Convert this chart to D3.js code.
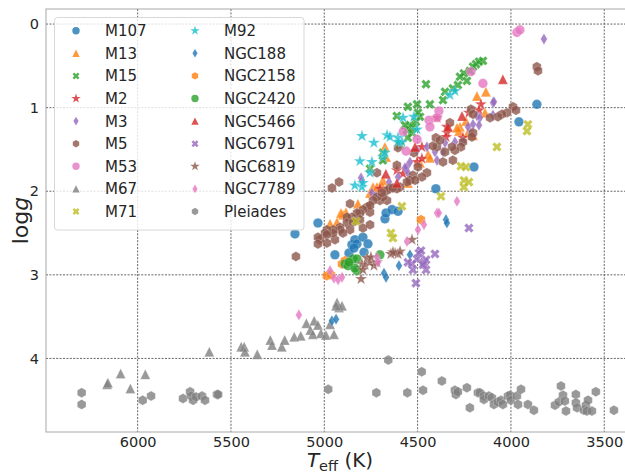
<!DOCTYPE html>
<html>
<head>
<meta charset="utf-8">
<script src="https://cdn.jsdelivr.net/npm/d3@7"></script>
<style>
  body { margin: 0; background: #fff; }
  text { font-family: "DejaVu Sans", sans-serif; fill: #262626; }
</style>
</head>
<body>
<div id="chart"></div>
<script>
// [Teff, logg], one array per cluster
const M107 = [[5157,2.51],[5034,2.38],[4943,2.76],[4868,2.74],[4852,2.64],[4836,2.58],[4825,2.63],[4841,2.68],[4793,2.55],[4787,2.73],[4766,2.63],[4675,2.33],[4669,2.26],[4637,2.22],[4605,2.24],[4402,1.97],[4198,1.71],[3957,1.17],[3861,0.96]];
const M13 = [[4134,0.81],[4182,0.86],[4139,1.06],[4241,1.16],[4273,1.23],[4278,1.28],[4230,1.30],[4203,1.33],[4444,1.56],[4487,1.66],[4434,1.60],[4675,1.47],[4669,1.59],[4686,1.87],[4691,1.93],[4739,1.95],[4755,2.02],[4820,2.15],[4884,2.25],[4900,2.28],[4969,2.39],[4932,2.37],[4552,1.90],[4289,1.24],[4911,2.26],[4718,1.95]];
const M15 = [[4150,0.44],[4171,0.45],[4187,0.48],[4203,0.51],[4220,0.56],[4252,0.59],[4273,0.63],[4236,0.68],[4284,0.73],[4311,0.77],[4353,0.81],[4364,0.91],[4455,0.72],[4503,0.96],[4434,0.96],[4552,0.99],[4611,1.10],[4541,1.21],[4509,1.17],[4525,1.24],[4557,1.27],[4487,1.11],[4530,1.30],[4552,1.36],[4594,1.45],[4686,1.54],[4686,1.63],[4755,1.73],[4568,1.21],[4498,1.06]];
const M2 = [[4161,0.96],[4171,1.03],[4257,1.36],[4343,1.30],[4348,1.35],[4396,1.12],[4477,1.47],[4503,1.65],[4477,1.61],[4611,1.75],[4702,1.97],[4578,1.79],[4225,1.06],[4343,1.23]];
const M3 = [[3823,0.18],[4096,0.94],[4091,0.93],[4096,1.09],[4182,1.10],[4166,1.12],[4203,1.20],[4171,1.21],[4230,1.23],[4257,1.41],[4353,1.42],[4364,1.53],[4407,1.53],[4503,1.51],[4450,1.47],[4557,1.71],[4552,1.78],[4605,1.83],[4653,1.89],[4803,1.84],[4798,1.87],[4745,2.02],[4729,2.06],[4568,1.72],[4541,1.65],[4396,1.63],[4300,1.41],[4214,1.30]];
const M5 = [[3861,0.51],[3855,0.56],[3989,0.99],[3973,1.03],[4021,1.06],[4048,1.08],[4070,1.11],[4112,1.12],[4214,1.02],[4203,1.08],[4327,1.18],[4203,1.30],[4209,1.35],[4257,1.41],[4268,1.47],[4300,1.51],[4316,1.47],[4353,1.53],[4311,1.63],[4364,1.65],[4396,1.47],[4418,1.46],[4402,1.36],[4520,1.54],[4498,1.71],[4450,1.78],[4477,1.83],[4525,1.81],[4541,1.87],[4514,1.87],[4557,1.89],[4594,1.95],[4611,1.97],[4648,1.96],[4664,1.99],[4632,1.96],[4664,2.11],[4702,2.11],[4686,2.07],[4718,2.07],[4691,2.02],[4739,2.11],[4771,2.19],[4755,2.25],[4755,2.17],[4793,2.22],[4809,2.26],[4825,2.26],[4852,2.31],[4879,2.31],[4809,2.34],[4879,2.38],[4862,2.46],[4846,2.37],[4916,2.43],[4916,2.46],[4900,2.50],[4943,2.58],[4953,2.46],[4953,2.50],[4986,2.46],[4996,2.50],[4986,2.52],[4986,2.62],[5023,2.58],[5034,2.55],[5034,2.63],[5152,2.78],[4921,1.89],[4959,1.96],[4862,2.15],[4718,1.78],[4611,1.69],[4605,1.48],[4793,2.44],[4755,2.40],[4380,1.39]];
const M53 = [[3968,0.10],[3952,0.07],[4214,0.57],[4150,0.71],[4386,1.04],[4396,1.12],[4439,1.15],[4434,1.23],[4578,1.29],[4503,1.38],[4562,1.52]];
const M67 = [[6164,4.31],[6159,4.29],[6091,4.18],[6039,4.36],[5959,4.19],[5616,3.92],[5445,3.86],[5429,3.86],[5425,3.92],[5359,3.95],[5289,3.78],[5280,3.84],[5228,3.86],[5212,3.78],[5161,3.74],[5126,3.73],[5096,3.58],[5075,3.66],[5061,3.71],[5054,3.55],[5034,3.60],[5018,3.70],[4991,3.72],[4969,3.59],[4948,3.71],[4932,3.33],[4921,3.39],[4905,3.37],[4937,3.37]];
const M71 = [[4075,1.47],[3909,1.20],[3914,1.28],[4268,1.70],[4241,1.71],[4252,1.87],[4225,1.89],[4252,1.95],[4375,2.06],[4584,2.18],[4830,2.36],[4643,2.50],[4632,2.56]];
const M92 = [[4798,1.34],[4734,1.42],[4664,1.33],[4648,1.35],[4605,1.36],[4584,1.41],[4578,1.12],[4520,1.11],[4503,1.26],[4809,1.64],[4745,1.65],[4686,1.59],[4675,1.54],[4755,1.78],[4836,1.93],[4798,1.95],[4793,1.90],[4327,0.85],[4300,0.80],[4605,1.41]];
const NGC188 = [[4959,3.55],[4937,3.53],[4680,2.98],[4669,3.03],[4600,2.89],[4541,2.76],[4348,2.34],[4343,2.38]];
const NGC2158 = [[4986,3.01],[4964,3.00],[4905,2.87],[4889,2.83],[4482,2.34]];
const NGC2420 = [[4889,2.87],[4873,2.89],[4846,2.81],[4825,2.95],[4836,2.92],[4825,2.81],[4702,2.76],[4868,2.85]];
const NGC5466 = [[4043,0.66],[4262,1.10],[4337,1.23],[4514,1.47],[4611,1.90],[4670,1.79]];
const NGC6791 = [[4225,2.44],[4407,2.75],[4525,2.94],[4509,3.10],[4503,2.81],[4493,2.74],[4482,2.71],[4466,2.85],[4455,2.94],[4455,2.82],[4471,2.88],[4530,2.87],[4552,2.85]];
const NGC6819 = [[4803,3.05],[4798,2.87],[4782,2.88],[4771,2.80],[4755,2.85],[4750,2.79],[4734,2.89],[4718,2.85],[4793,2.94],[4643,2.75],[4621,2.74],[4605,2.75],[4594,2.72],[4632,2.73],[4530,2.58]];
const NGC7789 = [[5136,3.48],[4969,2.95],[4948,3.04],[4926,3.06],[4905,3.03],[4718,2.79],[4712,2.85],[4557,2.60],[4498,2.46],[4466,2.40],[4396,2.26],[4386,2.26],[4289,2.12]];
const Pleiades = [[6300,4.41],[6300,4.55],[5973,4.50],[5928,4.45],[5757,4.48],[5719,4.40],[5714,4.45],[5703,4.50],[5687,4.46],[5655,4.45],[5639,4.50],[5575,4.43],[5569,4.43],[4979,4.37],[4721,4.41],[4657,4.02],[4555,4.41],[4478,4.16],[4471,4.38],[4370,4.27],[4300,4.38],[4295,4.43],[4284,4.40],[4236,4.35],[4220,4.59],[4177,4.41],[4166,4.41],[4145,4.45],[4145,4.49],[4118,4.45],[4102,4.47],[4091,4.55],[4070,4.52],[4053,4.50],[4043,4.55],[4016,4.45],[4005,4.44],[4000,4.50],[3968,4.45],[3962,4.55],[3946,4.37],[3909,4.55],[3877,4.62],[3764,4.56],[3743,4.52],[3732,4.33],[3721,4.44],[3711,4.51],[3705,4.63],[3652,4.43],[3652,4.53],[3646,4.59],[3609,4.62],[3598,4.56],[3593,4.63],[3587,4.50],[3566,4.63],[3545,4.40],[3448,4.62]];

const clusterNames = ['M107','M13','M15','M2','M3','M5','M53','M67','M71','M92','NGC188','NGC2158','NGC2420','NGC5466','NGC6791','NGC6819','NGC7789','Pleiades'];
const clusterData = [M107,M13,M15,M2,M3,M5,M53,M67,M71,M92,NGC188,NGC2158,NGC2420,NGC5466,NGC6791,NGC6819,NGC7789,Pleiades];
const xTicks = [6000,5500,5000,4500,4000,3500];
const yTicks = [0,1,2,3,4];

const palette = d3.schemeCategory10;
const markerCycle = ['o','^','X','*','d','h'];

// marker paths, r = half size
function markerPath(m, r) {
  if (m === 'o') return d3.symbol(d3.symbolCircle, Math.PI * r * r)();
  if (m === '*') return d3.symbol(d3.symbolStar, r * r * 1.5)();
  if (m === '^') return `M0,${-r}L${r},${r}L${-r},${r}Z`;
  if (m === 'd') return `M0,${-r}L${r*0.6},0L0,${r}L${-r*0.6},0Z`;
  if (m === 'h') {
    const pts = d3.range(6).map(k => {
      const a = -Math.PI / 2 + k * Math.PI / 3;
      return [r * Math.cos(a), r * Math.sin(a)];
    });
    return 'M' + pts.map(p => p.join(',')).join('L') + 'Z';
  }
  if (m === 'X') {
    const a = r * 0.33;
    const plus = [[a,r],[a,a],[r,a],[r,-a],[a,-a],[a,-r],[-a,-r],[-a,-a],[-r,-a],[-r,a],[-a,a],[-a,r]];
    const c = Math.SQRT1_2;
    const pts = plus.map(([x,y]) => [(x - y) * c, (x + y) * c]);
    return 'M' + pts.map(p => p.join(',')).join('L') + 'Z';
  }
}

const width = 625, height = 474;
const margin = { top: 9, right: -5, bottom: 42, left: 46 };

const svg = d3.select('#chart').append('svg')
  .attr('width', width)
  .attr('height', height);

const x = d3.scaleLinear()
  .domain([6491, 3362])
  .range([margin.left, width - margin.right]);

const y = d3.scaleLinear()
  .domain([-0.18, 4.88])
  .range([margin.top, height - margin.bottom]);

const plotW = width - margin.right - margin.left;
const plotH = height - margin.bottom - margin.top;

svg.append('defs').append('clipPath').attr('id', 'clip')
  .append('rect')
  .attr('x', margin.left).attr('y', margin.top)
  .attr('width', plotW).attr('height', plotH);

// grid
const grid = svg.append('g').attr('class', 'grid');
grid.selectAll('line.gx').data(xTicks).join('line')
  .attr('class', 'gx')
  .attr('x1', d => x(d)).attr('x2', d => x(d))
  .attr('y1', margin.top).attr('y2', height - margin.bottom)
  .attr('stroke', '#555').attr('stroke-width', 0.9)
  .attr('stroke-dasharray', '2,1.4');
grid.selectAll('line.gy').data(yTicks).join('line')
  .attr('class', 'gy')
  .attr('x1', margin.left).attr('x2', width - margin.right)
  .attr('y1', d => y(d)).attr('y2', d => y(d))
  .attr('stroke', '#555').attr('stroke-width', 0.9)
  .attr('stroke-dasharray', '2,1.4');

// spines
svg.append('rect')
  .attr('x', margin.left).attr('y', margin.top)
  .attr('width', plotW).attr('height', plotH)
  .attr('fill', 'none').attr('stroke', '#a8a8a8').attr('stroke-width', 1);

// axes
const xAxis = svg.append('g')
  .attr('transform', `translate(0,${height - margin.bottom})`)
  .call(d3.axisBottom(x).tickValues(xTicks).tickSize(0).tickPadding(5).tickFormat(d3.format('d')));
const yAxis = svg.append('g')
  .attr('transform', `translate(${margin.left},0)`)
  .call(d3.axisLeft(y).tickValues(yTicks).tickSize(0).tickPadding(7).tickFormat(d3.format('d')));
[xAxis, yAxis].forEach(a => {
  a.select('.domain').remove();
  a.selectAll('text').style('font-size', '14.5px').style('font-family', '"DejaVu Sans", sans-serif').attr('fill', '#262626');
});

// points
const plot = svg.append('g').attr('clip-path', 'url(#clip)');
clusterData.forEach((pts, i) => {
  const m = markerCycle[i % 6];
  const r = m === '*' ? 5.6 : m === 'd' ? 5.6 : m === 'o' ? 4.8 : 5;
  plot.append('g').selectAll('path')
    .data(pts)
    .join('path')
    .attr('d', markerPath(m, r))
    .attr('transform', d => `translate(${x(d[0])},${y(d[1])})`)
    .attr('fill', palette[i % 10])
    .attr('fill-opacity', 0.8)
    .attr('stroke', '#fff')
    .attr('stroke-width', 0.4)
    .attr('stroke-opacity', 0.6);
});

// legend
const leg = svg.append('g');
leg.append('rect')
  .attr('x', 54.5).attr('y', 17.5).attr('width', 249.5).attr('height', 212.5)
  .attr('rx', 3).attr('fill', '#fff').attr('fill-opacity', 0.8)
  .attr('stroke', '#d8d8d8').attr('stroke-width', 1);
clusterNames.forEach((name, i) => {
  const col = Math.floor(i / 9), row = i % 9;
  const mx = col === 0 ? 76 : 195;
  const cy = 30.7 + row * 22.6;
  const m = markerCycle[i % 6];
  const r = m === '*' || m === 'd' ? 4.3 : 3.7;
  leg.append('path')
    .attr('d', markerPath(m, r))
    .attr('transform', `translate(${mx},${cy})`)
    .attr('fill', palette[i % 10])
    .attr('fill-opacity', 0.8);
  leg.append('text')
    .attr('x', mx + 29).attr('y', cy + 5.5)
    .style('font-size', '15px')
    .text(name);
});

// axis labels
const xl = svg.append('text')
  .attr('x', 340).attr('y', 467)
  .attr('text-anchor', 'middle')
  .style('font-size', '20px');
xl.append('tspan').style('font-style', 'italic').text('T');
xl.append('tspan').attr('dy', 3.5).style('font-size', '14.5px').text('eff');
xl.append('tspan').attr('dy', -3.5).text(' (K)');

const yl = svg.append('text')
  .attr('transform', `translate(27.5,${(margin.top + height - margin.bottom) / 2}) rotate(-90)`)
  .attr('text-anchor', 'middle')
  .style('font-size', '22px');
yl.append('tspan').text('log');
yl.append('tspan').style('font-style', 'italic').text('g');
</script>
</body>
</html>
